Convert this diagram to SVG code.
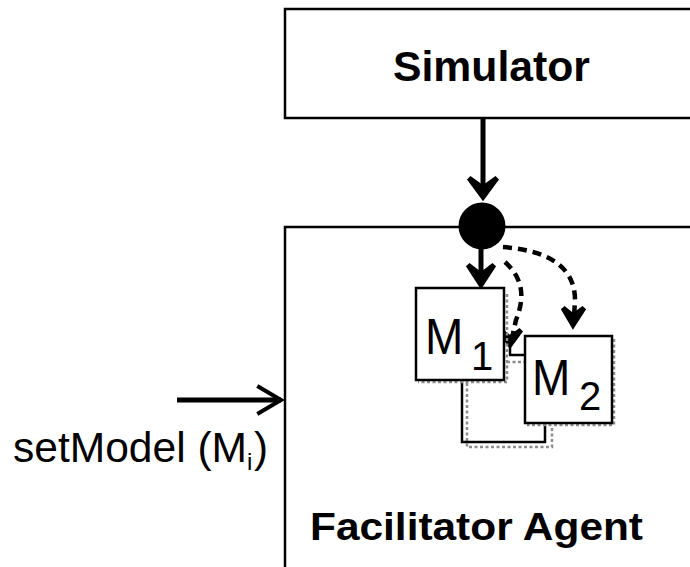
<svg xmlns="http://www.w3.org/2000/svg" width="690" height="567" viewBox="0 0 690 567">
  <style>
    .box { fill: #fff; stroke: #000; stroke-width: 2.5; }
    .model { fill: #fff; stroke: #000; stroke-width: 2.5; }
    .shadow { fill: none; stroke: #8c8c8c; stroke-width: 2.5; stroke-dasharray: 3 2.5; }
    .wire { fill: none; stroke: #000; stroke-width: 2.5; }
    .flow { fill: none; stroke: #000; stroke-width: 5; }
    .head { fill: #000; stroke: #000; stroke-width: 5; stroke-linejoin: miter; stroke-linecap: square; }
    .dash { fill: none; stroke: #000; stroke-width: 4.5; stroke-dasharray: 9 6; }
    .title { font-family: "Liberation Sans", Arial, sans-serif; font-weight: bold; fill: #000; }
    .label { font-family: "Liberation Sans", Arial, sans-serif; fill: #000; }
  </style>
  <rect width="690" height="567" fill="#fff"/>

  <g id="simulator">
    <rect class="box" x="285" y="9" width="430" height="109"/>
    <text class="title" x="393" y="81" font-size="42" textLength="197" lengthAdjust="spacingAndGlyphs">Simulator</text>
  </g>

  <g id="facilitator-agent">
    <rect class="box" x="285" y="227" width="430" height="360"/>
    <text class="title" x="310" y="540" font-size="38" textLength="333" lengthAdjust="spacingAndGlyphs">Facilitator Agent</text>
  </g>

  <g id="junction">
    <circle cx="482" cy="226" r="23.5" fill="#000"/>
  </g>

  <g id="connectors">
    <!-- Simulator to junction -->
    <line class="flow" x1="483" y1="118" x2="483" y2="196"/>
    <path class="head" d="M469,178 L483,197 L497,178 L483,188 Z"/>
    <!-- junction to M1 -->
    <line class="flow" x1="481" y1="248" x2="481" y2="284"/>
    <path class="head" d="M468,265 L481,285 L494,265 L481,275 Z"/>
    <!-- dashed arc to M2 -->
    <path class="dash" d="M503,247 C540,250 575,262 575,300 L574,318"/>
    <path class="head" d="M563,308 L573,325 L584,308 L573,316 Z"/>
    <!-- dashed curve to M1/M2 gap -->
    <path class="dash" d="M505,262 C525,280 524,300 516,320 L512,338"/>
    <path class="head" d="M500,330 L510,345 L521,330 L510,338 Z"/>
    <line class="wire" x1="510" y1="346" x2="510" y2="355"/>
    <line class="wire" x1="509" y1="355" x2="525" y2="355"/>
    <line class="shadow" x1="507" y1="362" x2="525" y2="362"/>
    <!-- M1 to M2 loop underneath -->
    <polyline class="shadow" points="467,383 467,447 552,447 552,426"/>
    <polyline class="wire" points="462,381 462,442 545,442 545,423"/>
    <!-- setModel input -->
    <line class="flow" x1="177" y1="400" x2="281" y2="400"/>
    <polyline points="259,387 281,400 259,413" fill="none" stroke="#000" stroke-width="4" stroke-linecap="square"/>
  </g>

  <g id="m1">
    <polyline class="shadow" points="507,294 507,382 418,382"/>
    <rect class="model" x="416" y="288" width="88" height="92"/>
    <text class="label" x="425" y="354" font-size="50" transform="translate(425 0) scale(0.92 1) translate(-425 0)">M</text>
    <text class="label" x="471" y="370" font-size="40">1</text>
  </g>

  <g id="m2">
    <polyline class="shadow" points="614,339 614,425 527,425"/>
    <rect class="model" x="525" y="336" width="87" height="87"/>
    <text class="label" x="532" y="395" font-size="50" transform="translate(532 0) scale(0.92 1) translate(-532 0)">M</text>
    <text class="label" x="579" y="410" font-size="40">2</text>
  </g>

  <g id="setmodel-label">
    <text class="label" x="13" y="462" font-size="42" textLength="234" lengthAdjust="spacingAndGlyphs">setModel (M</text>
    <text class="label" x="247" y="470" font-size="24">i</text>
    <text class="label" x="254" y="462" font-size="42">)</text>
  </g>
</svg>
